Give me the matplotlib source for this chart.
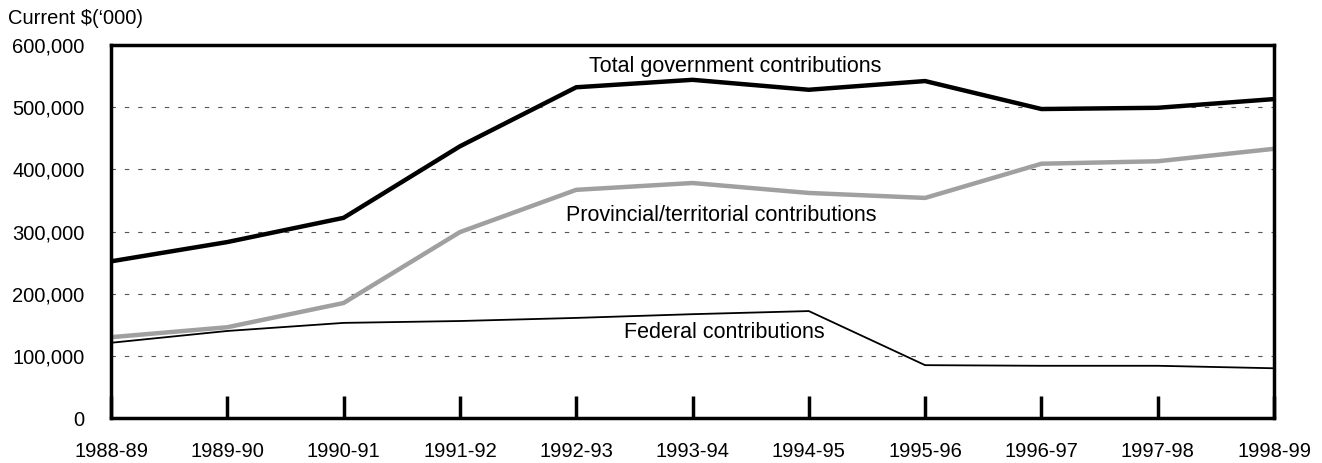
import numpy as np
import matplotlib.pyplot as plt

plt.rcParams['font.family'] = ['Liberation Sans', 'DejaVu Sans']

years = ['1988-89', '1989-90', '1990-91', '1991-92', '1992-93', '1993-94',
         '1994-95', '1995-96', '1996-97', '1997-98', '1998-99']
total = [252000, 283000, 322000, 437000, 532000, 544000, 528000, 542000, 497000, 499000, 513000]
provincial = [130000, 146000, 185000, 299000, 367000, 378000, 362000, 354000, 409000, 413000, 433000]
federal = [121000, 140000, 153000, 156000, 161000, 167000, 172000, 85000, 84000, 84000, 80000]

fig = plt.figure(figsize=(13.22, 4.63), dpi=100)
ax = fig.add_axes([111 / 1322, 45 / 463, (1274 - 111) / 1322, (418 - 45) / 463])

x = np.arange(len(years))
ax.plot(x, total, color='black', lw=3.2, solid_joinstyle='miter')
ax.plot(x, provincial, color='#a0a0a0', lw=3.2, solid_joinstyle='miter')
ax.plot(x, federal, color='black', lw=1.3)

ax.set_xlim(0, len(years) - 1)
ax.set_ylim(0, 600000)
ax.set_xticks(x)
ax.set_xticklabels(years)
ax.set_yticks(np.arange(0, 600001, 100000))
ax.set_yticklabels([f'{v:,}' for v in range(0, 600001, 100000)])

# dashed guides at each 100k
for v in range(100000, 600000, 100000):
    ax.axhline(v, color='#555555', lw=0.8, ls=(0, (4, 8)), zorder=0)

ax.tick_params(axis='x', direction='in', length=16, width=2.5, labelsize=14.5, pad=17)
ax.tick_params(axis='y', length=0, labelsize=14.5, pad=19)
for s in ax.spines.values():
    s.set_linewidth(2.5)

fs = 15.5
ax.text(5.37, 566000, 'Total government contributions', ha='center', va='center', fontsize=fs)
ax.text(5.25, 326000, 'Provincial/territorial contributions', ha='center', va='center', fontsize=fs)
ax.text(5.27, 137000, 'Federal contributions', ha='center', va='center', fontsize=fs)

fig.text(8 / 1322, 1 - 18 / 463, "Current $(\u2018000)", ha='left', va='center', fontsize=14.5)

fig.savefig('out.png', dpi=100)
